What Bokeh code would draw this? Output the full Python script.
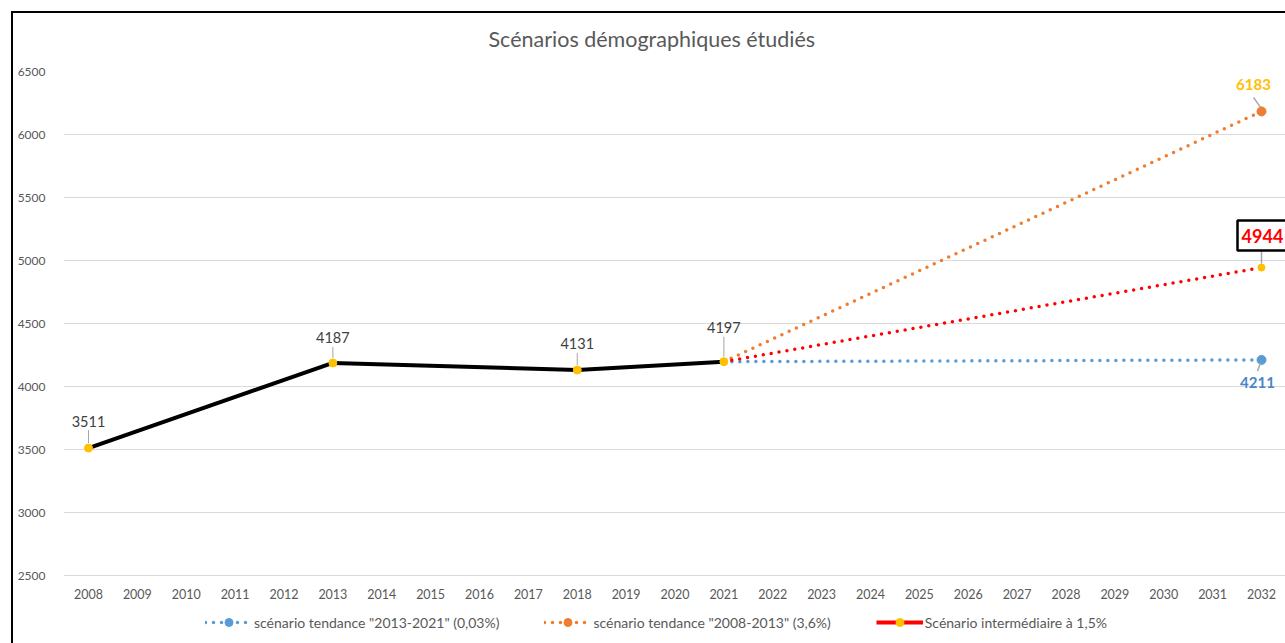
from bokeh.plotting import figure
from bokeh.models import (Range1d, FixedTicker, Legend, LegendItem, LabelSet,
                          ColumnDataSource)
from bokeh.core.properties import value
from bokeh.embed import file_html
from bokeh.resources import INLINE

# ---------------- data ----------------
years = list(range(2008, 2033))
hist_years = [2008, 2013, 2018, 2021]
hist_pop = [3511, 4187, 4131, 4197]
proj_years = [2021, 2032]
trend_2013_2021 = [4197, 4211]
trend_2008_2013 = [4197, 6183]
intermediate = [4197, 4944]
y_ticks = [2500, 3000, 3500, 4000, 4500, 5000, 5500, 6000, 6500]

title = "Scénarios démographiques étudiés"
name_blue = 'scénario tendance "2013-2021" (0,03%)'
name_orange = 'scénario tendance "2008-2013" (3,6%)'
name_red = "Scénario intermédiaire à 1,5%"

# ---------------- styles ----------------
FONT = "Lato"
GREY = "#595959"
BLUE = "#5B9BD5"
ORANGE = "#ED7D31"
RED = "#FF0000"
GOLD = "#FFC000"
W, H = 1285, 643
ML, MT = 63, 71
FW, FH = W - ML, H - MT
STEP = 48.875                 # px per year
PXU = 504 / 4000              # px per population unit
X0 = years[0] - 25 / STEP
X1 = X0 + FW / STEP
Y1 = y_ticks[-1]
Y0 = Y1 - FH / PXU
dx = 1 / STEP
dy = 1 / PXU
NAN = float("nan")
hist_label_off = [27, 25, 26, 34]   # label offsets above the points (px)

p = figure(frame_width=FW, frame_height=FH, output_backend="svg", toolbar_location=None,
           x_range=Range1d(X0, X1), y_range=Range1d(Y0, Y1), x_axis_location=None,
           min_border_left=ML, min_border_right=0, min_border_top=MT, min_border_bottom=0,
           title=title)
p.outline_line_color = None
p.background_fill_color = "white"
p.border_fill_color = None
p.styles = {
    "background-color": "white",
    "background-image": "linear-gradient(#000,#000), linear-gradient(#000,#000)",
    "background-size": "2px 100%, 100% 2px",
    "background-position": "11px 11px, 11px 11px",
    "background-repeat": "no-repeat",
}

p.title.align = "left"
p.title.offset = 425
p.title.text_font = FONT
p.title.text_font_size = "21.5px"
p.title.text_font_style = "normal"
p.title.text_color = GREY
p.title.standoff = 40

for g in p.grid:
    if g.dimension == 0:
        g.visible = False
p.ygrid.grid_line_color = "#d9d9d9"
p.ygrid.ticker = FixedTicker(ticks=y_ticks)

p.yaxis.ticker = FixedTicker(ticks=y_ticks)
p.yaxis.axis_line_color = None
p.yaxis.major_tick_line_color = None
p.yaxis.minor_tick_line_color = None
p.yaxis.major_label_standoff = 12
p.yaxis.major_label_text_font = FONT
p.yaxis.major_label_text_font_size = "12px"
p.yaxis.major_label_text_color = GREY

# x category labels along the 2500 line
xsrc = ColumnDataSource(dict(x=years, y=[y_ticks[0]] * len(years), t=[str(v) for v in years]))
p.add_layout(LabelSet(x="x", y="y", text="t", source=xsrc, y_offset=-18,
                      text_align="center", text_baseline="middle",
                      text_font=value(FONT), text_font_size="12.5px", text_color=GREY))

# ---------------- lines ----------------
dot = "0 8"
r_orange = p.line(proj_years, trend_2008_2013, line_color=ORANGE, line_width=3.5,
                  line_dash=dot, line_cap="round")
r_blue = p.line(proj_years, trend_2013_2021, line_color=BLUE, line_width=3.5,
                line_dash=dot, line_cap="round")
r_red = p.line(proj_years, intermediate, line_color=RED, line_width=3.5,
               line_dash=dot, line_cap="round")
p.line(hist_years, hist_pop, line_color="black", line_width=4)

m_blue = p.scatter([proj_years[-1]], [trend_2013_2021[-1]], size=9, color=BLUE)
m_orange = p.scatter([proj_years[-1]], [trend_2008_2013[-1]], size=9, color=ORANGE)
p.scatter([proj_years[-1]], [intermediate[-1]], size=7, color=GOLD)
p.scatter(hist_years, hist_pop, size=8, color=GOLD)

# legend-only renderers
leg_red_line = p.line([NAN], [NAN], line_color=RED, line_width=4)
leg_red_marker = p.scatter([NAN], [NAN], size=7, color=GOLD)

# ---------------- leader lines ----------------
lead = "#a6a6a6"
p.segment(x0=hist_years, y0=[v + 5 * dy for v in hist_pop],
          x1=hist_years, y1=[v + (o - 9) * dy for v, o in zip(hist_pop, hist_label_off)],
          line_color=lead, line_width=1)
p.segment(x0=[proj_years[-1] - 1 * dx], y0=[trend_2008_2013[-1] + 4 * dy],
          x1=[proj_years[-1] - 8 * dx], y1=[trend_2008_2013[-1] + 14 * dy],
          line_color=lead, line_width=1.5)
p.segment(x0=[proj_years[-1] - 1 * dx], y0=[trend_2013_2021[-1] - 3 * dy],
          x1=[proj_years[-1] - 4 * dx], y1=[trend_2013_2021[-1] - 11 * dy],
          line_color=lead, line_width=1.5)
p.segment(x0=[proj_years[-1]], y0=[intermediate[-1] + 4 * dy],
          x1=[proj_years[-1]], y1=[intermediate[-1] + 17 * dy],
          line_color=lead, line_width=1.5)

# box behind the 4944 label
p.rect(x=[proj_years[-1] + 1 * dx], y=[intermediate[-1] + 32 * dy], width=50, height=30,
       width_units="screen", height_units="screen", fill_color="white",
       line_color="black", line_width=2.5)

# ---------------- data labels ----------------
hsrc = ColumnDataSource(dict(x=hist_years, y=[v + o * dy for v, o in zip(hist_pop, hist_label_off)],
                             t=[str(v) for v in hist_pop]))
p.add_layout(LabelSet(x="x", y="y", text="t", source=hsrc,
                      text_align="center", text_baseline="middle",
                      text_font=value(FONT), text_font_size="14.5px", text_color="#404040"))

s1 = ColumnDataSource(dict(x=[proj_years[-1]], y=[trend_2008_2013[-1]], t=[str(trend_2008_2013[-1])]))
p.add_layout(LabelSet(x="x", y="y", text="t", source=s1, x_offset=-8, y_offset=27,
                      text_align="center", text_baseline="middle", text_font=value(FONT),
                      text_font_size="15px", text_font_style="bold", text_color=GOLD))
s2 = ColumnDataSource(dict(x=[proj_years[-1]], y=[trend_2013_2021[-1]], t=[str(trend_2013_2021[-1])]))
p.add_layout(LabelSet(x="x", y="y", text="t", source=s2, x_offset=-4, y_offset=-23,
                      text_align="center", text_baseline="middle", text_font=value(FONT),
                      text_font_size="15px", text_font_style="bold", text_color="#4A86C5"))
s3 = ColumnDataSource(dict(x=[proj_years[-1]], y=[intermediate[-1]], t=[str(intermediate[-1])]))
p.add_layout(LabelSet(x="x", y="y", text="t", source=s3, x_offset=1, y_offset=32,
                      text_align="center", text_baseline="middle", text_font=value(FONT),
                      text_font_size="18px", text_font_style="bold", text_color=RED))

# ---------------- legend ----------------
legend = Legend(items=[
    LegendItem(label=name_blue, renderers=[r_blue, m_blue]),
    LegendItem(label=name_orange, renderers=[r_orange, m_orange]),
    LegendItem(label=name_red, renderers=[leg_red_line, leg_red_marker]),
], orientation="horizontal", location=(142, 11), spacing=45, glyph_width=47,
    label_standoff=2, border_line_color=None, background_fill_alpha=0, padding=0,
    margin=0, label_text_font=FONT, label_text_font_size="14px", label_text_color=GREY)
p.add_layout(legend)

open("out.html", "w").write(file_html(p, INLINE))
